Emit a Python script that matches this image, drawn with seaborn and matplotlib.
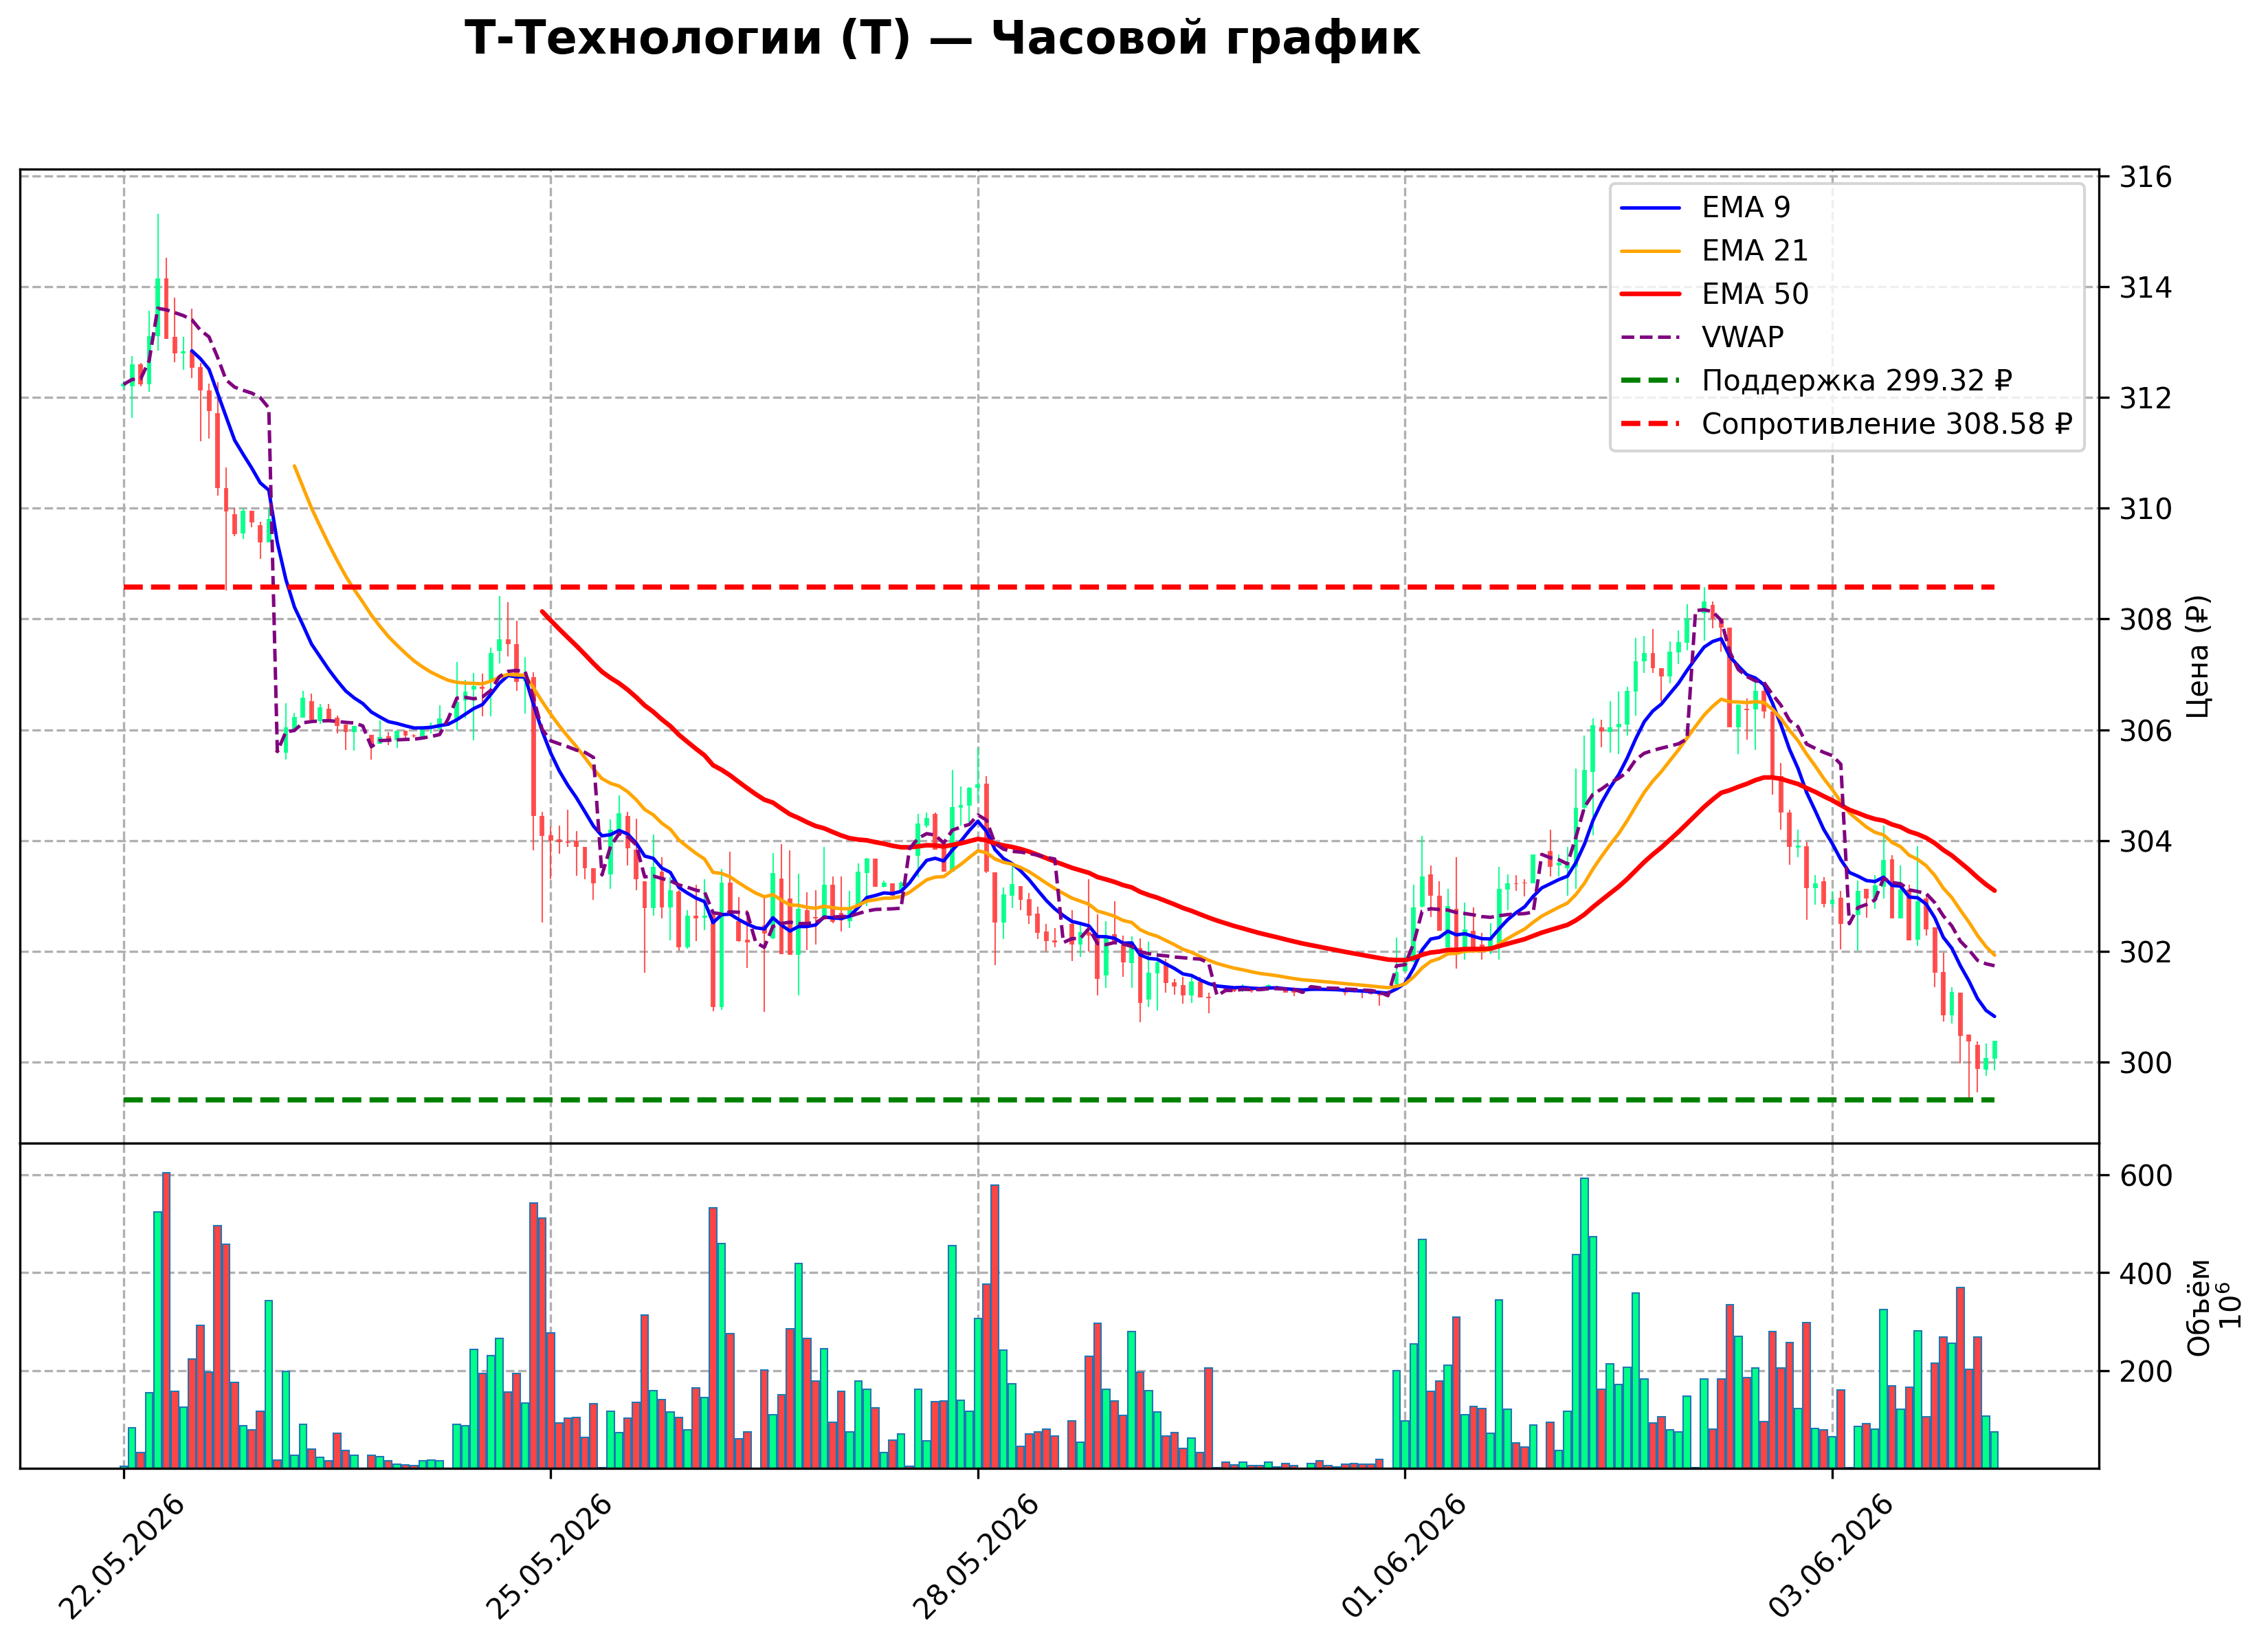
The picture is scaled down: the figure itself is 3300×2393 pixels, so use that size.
import numpy as np
import pandas as pd
import matplotlib
matplotlib.use('Agg')
import matplotlib.pyplot as plt
import seaborn as sns

# Hourly candles
opens = [312.20, 312.20, 312.60, 312.23, 313.10, 314.15, 313.09, 312.79, 312.84, 312.55,
         312.13, 311.72, 310.36, 309.89, 309.54, 309.95, 309.69, 309.38, 305.62, 305.59,
         306.00, 306.22, 306.51, 306.15, 306.38, 306.22, 306.09, 305.96, 306.07, 305.91,
         305.75, 305.88, 305.81, 305.98, 305.90, 305.83, 306.03, 306.02, 306.20, 306.18,
         306.53, 306.73, 306.78, 306.87, 307.42, 307.63, 307.54, 306.87, 306.95, 304.45,
         304.10, 304.02, 303.99, 304.00, 303.88, 303.50, 303.38, 303.39, 304.19, 304.44,
         303.83, 303.27, 302.78, 303.44, 302.80, 303.08, 302.07, 302.65, 302.61, 302.67,
         301.00, 303.24, 302.55, 302.21, 302.16, 302.47, 302.23, 303.31, 302.95, 301.94,
         302.75, 302.62, 302.61, 303.20, 302.70, 302.54, 302.80, 303.42, 303.67, 303.16,
         303.23, 303.10, 303.86, 303.73, 304.27, 304.48, 303.87, 303.44, 304.59, 304.63,
         304.95, 305.03, 303.43, 302.52, 303.00, 303.18, 302.94, 302.68, 302.36, 302.20,
         302.16, 302.50, 302.12, 302.35, 302.27, 301.57, 302.31, 302.12, 301.79, 302.06,
         301.13, 301.60, 301.80, 301.44, 301.39, 301.20, 301.45, 301.18, 301.20, 301.36,
         301.32, 301.33, 301.33, 301.30, 301.36, 301.37, 301.33, 301.30, 301.26, 301.34,
         301.35, 301.33, 301.32, 301.31, 301.30, 301.29, 301.26, 301.25, 301.20, 301.40,
         301.64, 301.81, 302.81, 303.39, 303.00, 302.08, 302.77, 302.03, 302.37, 302.13,
         302.08, 302.08, 303.12, 303.23, 303.24, 303.23, 303.75, 303.81, 303.55, 303.50,
         303.52, 304.59, 305.24, 306.05, 305.96, 306.04, 306.10, 306.69, 307.24, 307.38,
         307.11, 306.96, 307.40, 307.57, 308.15, 308.10, 308.25, 308.00, 307.84, 306.04,
         306.38, 306.37, 306.70, 306.33, 305.16, 304.50, 303.87, 303.90, 303.14, 303.26,
         302.86, 302.97, 302.50, 302.66, 303.13, 302.93, 303.17, 303.66, 302.60, 303.12,
         302.21, 302.96, 302.43, 301.63, 300.84, 301.26, 300.50, 300.31, 299.87, 300.06]

highs = [312.30, 312.75, 312.62, 313.56, 315.31, 314.52, 313.80, 313.09, 313.60, 312.62,
         312.25, 312.27, 310.73, 310.00, 310.00, 309.95, 309.75, 310.00, 305.64, 306.48,
         306.30, 306.70, 306.65, 306.47, 306.47, 306.25, 306.09, 306.07, 306.07, 305.91,
         306.17, 305.96, 305.98, 305.98, 305.92, 306.04, 306.13, 306.44, 306.20, 307.22,
         306.90, 307.02, 307.01, 307.48, 308.41, 308.30, 307.97, 307.31, 307.04, 304.52,
         304.24, 304.27, 304.55, 304.17, 303.88, 303.50, 303.38, 304.38, 304.82, 304.52,
         304.39, 303.27, 304.11, 303.70, 303.34, 303.11, 302.74, 303.20, 303.30, 302.67,
         303.49, 303.80, 302.98, 302.74, 302.16, 302.99, 303.78, 303.94, 303.82, 303.40,
         303.07, 303.10, 303.88, 303.35, 303.35, 303.09, 303.59, 303.69, 303.68, 303.28,
         303.23, 303.26, 303.87, 304.48, 304.50, 304.50, 303.87, 305.28, 304.98, 304.96,
         305.67, 305.16, 303.43, 303.15, 303.57, 303.18, 303.06, 302.81, 302.50, 302.42,
         302.16, 302.74, 302.49, 303.30, 302.67, 302.55, 302.91, 302.29, 302.27, 302.23,
         302.17, 301.98, 301.86, 301.50, 301.54, 301.59, 301.54, 301.26, 301.20, 301.36,
         301.33, 301.40, 301.34, 301.31, 301.41, 301.38, 301.34, 301.31, 301.26, 301.39,
         301.36, 301.34, 301.33, 301.32, 301.31, 301.30, 301.27, 301.26, 301.20, 302.25,
         301.93, 303.20, 304.08, 303.55, 303.26, 303.13, 303.70, 302.88, 302.80, 302.34,
         302.51, 303.52, 303.39, 303.38, 303.30, 303.75, 303.75, 304.20, 303.75, 303.88,
         305.30, 305.89, 306.20, 306.18, 306.52, 306.69, 306.78, 307.66, 307.70, 307.82,
         307.11, 307.59, 307.79, 308.26, 308.15, 308.58, 308.32, 308.00, 307.84, 306.46,
         306.57, 306.86, 306.86, 306.33, 305.40, 304.55, 304.19, 303.97, 303.38, 303.34,
         303.09, 303.09, 302.50, 303.28, 303.13, 303.38, 304.27, 303.74, 303.55, 303.20,
         303.90, 303.01, 302.43, 301.97, 301.35, 301.26, 300.50, 300.37, 300.34, 300.39]

lows = [312.15, 311.63, 312.20, 312.10, 312.84, 313.05, 312.63, 312.50, 312.35, 311.20,
        311.26, 310.22, 308.51, 309.49, 309.45, 309.65, 309.08, 309.38, 305.58, 305.46,
        306.00, 306.22, 306.18, 306.11, 306.18, 305.93, 305.64, 305.62, 306.07, 305.46,
        305.75, 305.72, 305.67, 305.82, 305.86, 305.83, 305.93, 305.89, 306.20, 305.99,
        306.21, 305.81, 306.24, 306.24, 307.20, 307.32, 306.70, 306.29, 303.82, 302.52,
        303.30, 303.76, 303.89, 303.36, 303.30, 302.93, 303.38, 303.13, 304.19, 303.55,
        303.11, 301.61, 302.65, 302.60, 302.20, 302.01, 302.05, 302.19, 302.39, 300.92,
        300.95, 302.71, 302.17, 301.70, 302.16, 300.91, 302.22, 301.95, 301.94, 301.20,
        302.03, 302.12, 302.61, 302.51, 302.36, 302.42, 302.80, 302.82, 303.16, 303.15,
        302.98, 303.08, 303.85, 303.34, 304.23, 303.83, 303.44, 303.44, 304.27, 304.33,
        304.70, 303.41, 301.75, 302.22, 302.78, 302.74, 302.50, 302.22, 302.00, 302.07,
        302.16, 301.83, 301.90, 302.00, 301.21, 301.34, 302.12, 301.54, 301.34, 300.72,
        301.00, 300.93, 301.26, 301.22, 301.06, 301.07, 301.17, 300.88, 301.20, 301.25,
        301.27, 301.27, 301.26, 301.28, 301.35, 301.34, 301.25, 301.19, 301.26, 301.33,
        301.31, 301.29, 301.28, 301.21, 301.26, 301.15, 301.22, 301.02, 301.20, 301.34,
        301.64, 301.80, 302.80, 302.62, 302.37, 302.08, 301.69, 301.85, 301.98, 301.85,
        301.95, 301.85, 302.74, 303.09, 302.99, 303.23, 303.75, 303.35, 303.35, 303.00,
        303.13, 304.54, 304.10, 305.68, 305.58, 305.56, 305.90, 306.25, 307.03, 307.03,
        306.51, 306.84, 307.19, 307.44, 308.15, 307.61, 307.83, 307.41, 306.05, 305.56,
        305.82, 305.64, 306.20, 304.83, 304.19, 303.56, 303.70, 302.57, 302.84, 302.79,
        302.79, 302.04, 302.50, 302.01, 302.61, 302.77, 302.96, 302.60, 302.60, 302.20,
        302.10, 302.29, 301.36, 300.73, 300.70, 299.98, 299.35, 299.46, 299.76, 299.85]

closes = [312.25, 312.60, 312.24, 313.11, 314.15, 313.06, 312.79, 312.83, 312.53, 312.12,
          311.75, 310.36, 309.94, 309.53, 309.95, 309.74, 309.38, 309.80, 305.60, 306.04,
          306.23, 306.58, 306.18, 306.40, 306.18, 306.07, 305.96, 306.07, 306.07, 305.71,
          305.87, 305.81, 305.98, 305.90, 305.88, 306.04, 306.08, 306.20, 306.20, 306.50,
          306.69, 306.79, 306.74, 307.39, 307.63, 307.54, 306.86, 306.93, 304.44, 304.08,
          304.00, 303.97, 303.96, 303.88, 303.50, 303.23, 303.38, 304.19, 304.49, 303.86,
          303.30, 302.78, 303.52, 302.80, 303.11, 302.07, 302.65, 302.60, 302.64, 301.00,
          303.24, 302.71, 302.19, 302.16, 302.16, 302.32, 303.41, 301.95, 301.94, 302.77,
          302.45, 302.59, 303.20, 302.53, 302.56, 302.80, 303.44, 303.67, 303.16, 303.24,
          303.00, 303.24, 303.85, 304.31, 304.41, 303.83, 303.44, 304.60, 304.64, 304.95,
          305.02, 303.44, 302.52, 303.03, 303.22, 302.93, 302.65, 302.34, 302.19, 302.16,
          302.16, 302.12, 302.35, 302.29, 301.50, 302.25, 302.12, 301.80, 302.17, 301.07,
          301.62, 301.80, 301.43, 301.37, 301.20, 301.45, 301.17, 301.15, 301.20, 301.30,
          301.28, 301.38, 301.28, 301.29, 301.39, 301.35, 301.26, 301.26, 301.26, 301.37,
          301.32, 301.30, 301.29, 301.26, 301.27, 301.25, 301.23, 301.20, 301.20, 301.63,
          301.83, 302.79, 303.35, 303.00, 302.37, 302.82, 302.03, 302.40, 302.08, 302.06,
          302.21, 303.13, 303.23, 303.21, 303.23, 303.75, 303.75, 303.52, 303.60, 303.60,
          304.59, 305.27, 306.08, 305.97, 306.04, 306.11, 306.70, 307.23, 307.38, 307.11,
          306.96, 307.41, 307.58, 308.00, 308.15, 308.31, 308.00, 307.84, 306.05, 306.46,
          306.36, 306.70, 306.33, 305.16, 304.50, 303.89, 303.91, 303.14, 303.23, 302.85,
          302.93, 302.49, 302.50, 303.09, 302.96, 303.19, 303.65, 302.60, 303.12, 302.20,
          302.91, 302.40, 301.62, 300.84, 301.27, 300.47, 300.37, 299.88, 300.08, 300.39]

# volume, millions of shares
volumes = [4, 83, 33, 155, 524, 605, 157, 125, 223, 292,
           197, 496, 458, 175, 87, 78, 117, 343, 17, 198,
           27, 90, 40, 23, 15, 72, 37, 26, 0, 27,
           24, 15, 9, 7, 6, 16, 17, 16, 0, 90,
           87, 243, 194, 230, 266, 156, 194, 134, 543, 511,
           277, 93, 102, 104, 63, 132, 1, 117, 73, 102,
           135, 314, 159, 140, 115, 104, 78, 164, 145, 532,
           459, 276, 60, 74, 0, 201, 110, 150, 285, 419,
           266, 179, 244, 94, 157, 75, 179, 161, 124, 33,
           57, 70, 4, 161, 56, 136, 138, 456, 139, 116,
           306, 377, 579, 242, 173, 45, 70, 75, 80, 66,
           0, 97, 53, 229, 296, 161, 138, 108, 279, 197,
           159, 115, 66, 73, 41, 62, 33, 205, 1, 12,
           7, 12, 6, 6, 12, 3, 10, 6, 0, 10,
           16, 6, 3, 8, 10, 9, 8, 18, 0, 200,
           97, 254, 468, 157, 179, 211, 309, 110, 126, 122,
           72, 345, 121, 52, 43, 88, 0, 94, 37, 116,
           437, 593, 473, 161, 213, 171, 207, 359, 183, 93,
           106, 78, 75, 147, 2, 183, 80, 183, 334, 270,
           186, 205, 96, 279, 205, 257, 122, 298, 82, 78,
           64, 160, 1, 86, 91, 80, 324, 168, 121, 166,
           281, 106, 215, 269, 256, 369, 202, 269, 107, 74]

# first bar of each trading session and its date
session_starts = [0, 18, 28, 38, 56, 74, 92, 110, 128, 138, 148, 166, 184, 202]
session_dates = ['22.05.2026', '23.05.2026', '24.05.2026', '25.05.2026', '26.05.2026',
                 '27.05.2026', '28.05.2026', '29.05.2026', '30.05.2026', '31.05.2026',
                 '01.06.2026', '02.06.2026', '03.06.2026', '04.06.2026']

support = 299.32
resistance = 308.58

sns.set_style('ticks', {'axes.edgecolor': 'black', 'xtick.color': 'black',
                        'ytick.color': 'black', 'text.color': 'black',
                        'axes.labelcolor': 'black'})
plt.rcParams['font.family'] = ['DejaVu Sans']
plt.rcParams['font.size'] = 10

df = pd.DataFrame({'open': opens, 'high': highs, 'low': lows,
                   'close': closes, 'volume': volumes})
n = len(df)
df['x'] = np.arange(n)
sess = np.zeros(n, dtype=int)
for k, s in enumerate(session_starts):
    sess[s:] = k
df['session'] = sess
df['date'] = [session_dates[k] for k in sess]


def ema(series, span):
    # seeded with the simple average of the first `span` values
    seed = series.copy()
    seed.iloc[:span - 1] = np.nan
    seed.iloc[span - 1] = series.iloc[:span].mean()
    return seed.ewm(span=span, adjust=False).mean()


df['ema9'] = ema(df['close'], 9)
df['ema21'] = ema(df['close'], 21)
df['ema50'] = ema(df['close'], 50)

# session VWAP on typical price
tp = (df['high'] + df['low'] + df['close']) / 3
df['pv'] = tp * df['volume']
cum_pv = df.groupby('session')['pv'].cumsum()
cum_v = df.groupby('session')['volume'].cumsum()
df['vwap'] = (cum_pv / cum_v.replace(0, np.nan)).fillna(tp)

up = df['close'] >= df['open']
up_col, down_col = '#00ff88', '#ff4444'
colors = np.where(up, up_col, down_col)

fig = plt.figure(figsize=(11, 7.977), dpi=300)
ax1 = fig.add_axes([0.0089, 0.3051, 0.9165, 0.5921])
ax2 = fig.add_axes([0.0089, 0.1074, 0.9165, 0.1977], sharex=ax1)

# candles
ax1.vlines(df['x'], df['low'], df['high'], colors=colors, linewidth=0.5, alpha=0.9)
ax1.bar(df['x'], df['close'] - df['open'], bottom=df['open'], width=0.55,
        color=colors, linewidth=0, alpha=0.9)

sns.lineplot(data=df, x='x', y='ema9', ax=ax1, color='blue', linewidth=1.2, label='EMA 9')
sns.lineplot(data=df, x='x', y='ema21', ax=ax1, color='orange', linewidth=1.2, label='EMA 21')
sns.lineplot(data=df, x='x', y='ema50', ax=ax1, color='red', linewidth=1.6, label='EMA 50')
sns.lineplot(data=df, x='x', y='vwap', ax=ax1, color='purple', linewidth=1.2,
             linestyle='--', label='VWAP')
ax1.hlines(support, 0, n - 1, colors='green', linestyles='--', linewidth=1.8,
           label=f'Поддержка {support:.2f} ₽')
ax1.hlines(resistance, 0, n - 1, colors='red', linestyles='--', linewidth=1.8,
           label=f'Сопротивление {resistance:.2f} ₽')

ax1.set_ylim(298.54, 316.12)
ax1.set_yticks(np.arange(300, 317, 2))
ax1.yaxis.tick_right()
ax1.yaxis.set_label_position('right')
ax1.set_ylabel('Цена (₽)')
ax1.set_xlabel('')
ax1.grid(True, linestyle='--', color='#b0b0b0', linewidth=0.8)
ax1.set_axisbelow(True)
ax1.tick_params(axis='x', length=0, labelbottom=False)
ax1.legend(loc='upper right')

# volume
ax2.bar(df['x'], df['volume'], width=0.85, color=colors, edgecolor='#1f77b4', linewidth=0.5)
ax2.set_ylim(0, 665)
ax2.set_yticks([200, 400, 600])
ax2.yaxis.tick_right()
ax2.yaxis.set_label_position('right')
ax2.set_ylabel('Объём\n$10^6$')
ax2.grid(True, linestyle='--', color='#b0b0b0', linewidth=0.8)
ax2.set_axisbelow(True)

ticks = np.arange(0, n, 50)
ax2.set_xticks(ticks)
ax2.set_xticklabels(df['date'].iloc[ticks], rotation=45)
ax2.set_xlim(-12.1, 231.2)

fig.text(0.4158, 0.9753, 'Т-Технологии (T) — Часовой график', ha='center', va='center',
         fontsize=16, fontweight='bold')

fig.savefig('out.png', dpi=300)
